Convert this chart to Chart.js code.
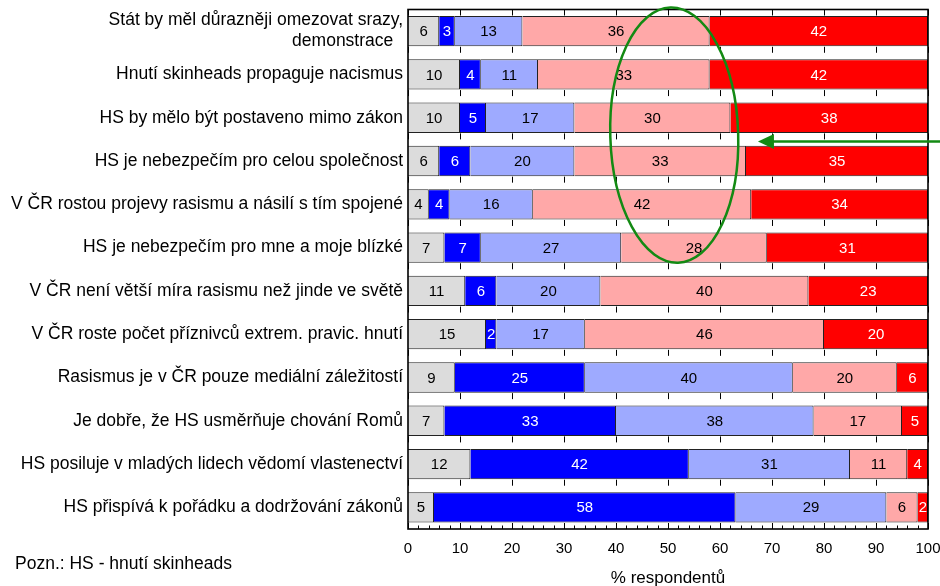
<!DOCTYPE html>
<html lang="cs">
<head>
<meta charset="utf-8">
<title>Postoje k hnutí skinheads</title>
<script src="https://cdn.jsdelivr.net/npm/chart.js@4.4.1/dist/chart.umd.min.js"></script>
<style>
  html, body { margin: 0; padding: 0; background: #fff; }
  #wrap { position: relative; width: 940px; height: 586px; }
  #note { position: absolute; left: 15px; top: 553px; line-height: 20px;
          font: 17.5px "Liberation Sans", Arial, sans-serif; color: #000; white-space: nowrap; }
</style>
</head>
<body>
<div id="wrap">
  <canvas id="chart" width="940" height="586"></canvas>
  <div id="note">Pozn.: HS - hnutí skinheads</div>
</div>
<script>
// výroky (shora dolů)
const statements = [
    ['Stát by měl důrazněji omezovat srazy,', 'demonstrace  '],
    'Hnutí skinheads propaguje nacismus',
    'HS by mělo být postaveno mimo zákon',
    'HS je nebezpečím pro celou společnost',
    'V ČR rostou projevy rasismu a násilí s tím spojené',
    'HS je nebezpečím pro mne a moje blízké',
    'V ČR není větší míra rasismu než jinde ve světě',
    'V ČR roste počet příznivců extrem. pravic. hnutí',
    'Rasismus je v ČR pouze mediální záležitostí',
    'Je dobře, že HS usměrňuje chování Romů',
    'HS posiluje v mladých lidech vědomí vlastenectví',
    'HS přispívá k pořádku a dodržování zákonů'
];

// odpovědi v %
const nevi        = [6, 10, 10, 6, 4, 7, 11, 15, 9, 7, 12, 5];
const rozhodneNe  = [3, 4, 5, 6, 4, 7, 6, 2, 25, 33, 42, 58];
const spiseNe     = [13, 11, 17, 20, 16, 27, 20, 17, 40, 38, 31, 29];
const spiseAno    = [36, 33, 30, 33, 42, 28, 40, 46, 20, 17, 11, 6];
const rozhodneAno = [42, 42, 38, 35, 34, 31, 23, 20, 6, 5, 4, 2];

const xTicks = [0, 10, 20, 30, 40, 50, 60, 70, 80, 90, 100];

const FONT = '"Liberation Sans", Arial, sans-serif';
const GREEN = '#138a13';

function serie(label, data, color, textColor) {
    return {
        label: label,
        data: data,
        backgroundColor: color,
        borderColor: '#222',
        borderWidth: 1,
        barPercentage: 0.7,
        categoryPercentage: 1.0,
        textColor: textColor
    };
}

// rámeček grafu a krátké značky na ose x
const frame = {
    id: 'frame',
    afterDatasetsDraw(chart) {
        const {ctx, chartArea: a, scales: {x, y}} = chart;
        ctx.save();
        ctx.strokeStyle = '#000';
        ctx.lineWidth = 1;
        ctx.beginPath();
        const n = statements.length;
        const band = y.getPixelForValue(1) - y.getPixelForValue(0);
        for (let i = 0; i <= n; i++) {
            const b = a.top + i * band;
            const y0 = i === 0 ? b : b - 6;
            const y1 = i === 0 ? b + 6 : b;
            xTicks.forEach(v => {
                const px = Math.round(x.getPixelForValue(v)) + 0.5;
                ctx.moveTo(px, y0);
                ctx.lineTo(px, y1);
            });
        }
        for (let v = 2; v < 100; v += 2) {
            if (v % 10 === 0) continue;
            const px = Math.round(x.getPixelForValue(v)) + 0.5;
            ctx.moveTo(px, a.bottom);
            ctx.lineTo(px, a.bottom - 3.5);
        }
        ctx.stroke();
        ctx.lineWidth = 1.6;
        ctx.strokeRect(a.left, a.top, a.right - a.left, a.bottom - a.top);
        ctx.restore();
    }
};

// hodnoty uvnitř úseků
const values = {
    id: 'values',
    afterDatasetsDraw(chart) {
        const ctx = chart.ctx;
        ctx.save();
        ctx.font = '15px ' + FONT;
        ctx.textAlign = 'center';
        ctx.textBaseline = 'middle';
        chart.data.datasets.forEach((ds, di) => {
            const meta = chart.getDatasetMeta(di);
            meta.data.forEach((bar, i) => {
                const v = ds.data[i];
                if (!v) return;
                ctx.fillStyle = ds.textColor;
                ctx.fillText(String(v), (bar.x + bar.base) / 2, bar.y + 1);
            });
        });
        ctx.restore();
    }
};

// zelená elipsa a šipka
const highlight = {
    id: 'highlight',
    afterDraw(chart) {
        const {ctx, chartArea: a, scales: {x, y}} = chart;
        const band = y.getPixelForValue(1) - y.getPixelForValue(0);
        const cx = x.getPixelForValue(51.2);
        const rx = x.getPixelForValue(63.5) - cx;
        const top = a.top - 2;
        const bottom = y.getPixelForValue(5) + band * 0.35;
        ctx.save();
        ctx.strokeStyle = GREEN;
        ctx.fillStyle = GREEN;
        ctx.lineWidth = 2.5;
        ctx.beginPath();
        ctx.ellipse(cx, (top + bottom) / 2, rx, (bottom - top) / 2, -0.03, 0, Math.PI * 2);
        ctx.stroke();

        const ay = y.getPixelForValue(2.5) + 2;
        const tip = x.getPixelForValue(67.3);
        ctx.beginPath();
        ctx.moveTo(chart.width, ay);
        ctx.lineTo(tip + 10, ay);
        ctx.stroke();
        ctx.beginPath();
        ctx.moveTo(tip, ay);
        ctx.lineTo(tip + 16, ay - 7.5);
        ctx.lineTo(tip + 16, ay + 7.5);
        ctx.closePath();
        ctx.fill();
        ctx.restore();
    }
};

const chart = new Chart(document.getElementById('chart'), {
    type: 'bar',
    data: {
        labels: statements,
        datasets: [
            serie('neví', nevi, '#dcdcdc', '#000'),
            serie('rozhodně ne', rozhodneNe, '#0000ff', '#fff'),
            serie('spíše ne', spiseNe, '#9eaaff', '#000'),
            serie('spíše ano', spiseAno, '#ffa8a8', '#000'),
            serie('rozhodně ano', rozhodneAno, '#ff0000', '#fff')
        ]
    },
    options: {
        indexAxis: 'y',
        responsive: false,
        animation: false,
        events: [],
        layout: { padding: { top: 9.5, right: 12, left: 0, bottom: 0 } },
        plugins: {
            legend: { display: false },
            tooltip: { enabled: false }
        },
        scales: {
            x: {
                stacked: true,
                min: 0,
                max: 100,
                afterBuildTicks: s => { s.ticks = xTicks.map(v => ({ value: v })); },
                grid: { display: false, drawTicks: false },
                border: { display: false },
                ticks: { color: '#000', padding: 11, maxRotation: 0, font: { family: FONT, size: 15 } },
                title: {
                    display: true,
                    text: '% respondentů',
                    color: '#000',
                    padding: { top: 0, bottom: -3 },
                    font: { family: FONT, size: 17 }
                },
                afterFit: s => {
                    s.height = 57;
                    s.paddingLeft = 0;
                    s.paddingRight = 0;
                }
            },
            y: {
                stacked: true,
                grid: { display: false, drawTicks: false },
                border: { display: false },
                ticks: { color: '#000', padding: 5, autoSkip: false, font: { family: FONT, size: 17.5 } },
                afterFit: s => {
                    s.width = 408;
                    s.paddingTop = 0;
                    s.paddingBottom = 0;
                }
            }
        }
    },
    plugins: [frame, values, highlight]
});
</script>
</body>
</html>
